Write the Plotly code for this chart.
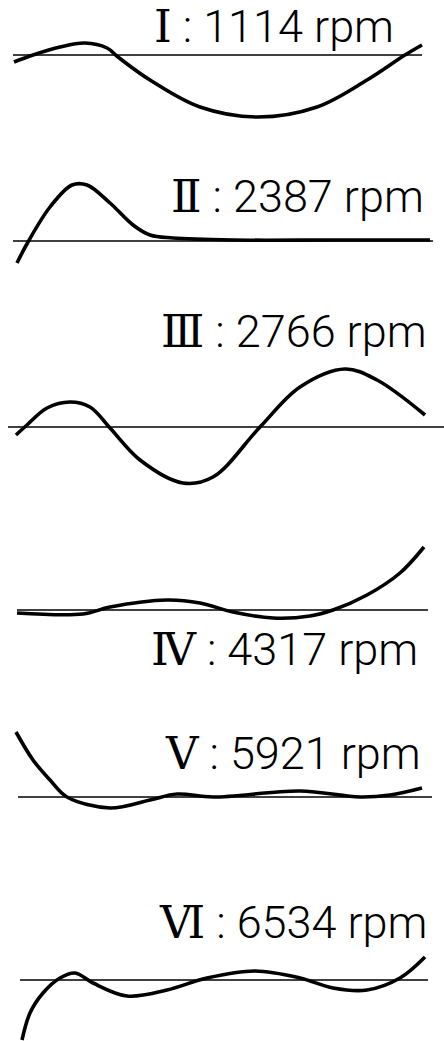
import plotly.graph_objects as go

W, H = 444, 1041

# Mode labels
modes = ["Ⅰ", "Ⅱ", "Ⅲ", "Ⅳ", "Ⅴ", "Ⅵ"]
speeds_rpm = [1114, 2387, 2766, 4317, 5921, 6534]

# Mode shapes: station along the span and deflection (up positive)
pos_1 = [14, 33, 60, 85, 107, 118, 150, 200, 258, 317, 367, 405, 422]
def_1 = [-7, 0, 8, 12, 7, -2, -25, -52, -62, -52, -25, 0, 10]

pos_2 = [17, 28, 50, 72, 87, 110, 133, 150, 173, 233, 333, 430]
def_2 = [-22, -1, 34, 56, 56, 38, 16, 6, 3, 1, 1, 1]

pos_3 = [16, 27, 47, 70, 90, 110, 140, 183, 213, 260, 300, 345, 377, 425]
def_3 = [-8, 2, 19, 25, 20, -1, -33, -56, -50, 0, 40, 58, 47, 12]

pos_4 = [17, 83, 110, 167, 200, 233, 273, 310, 333, 367, 400, 424]
def_4 = [-3, -4, 3, 10, 7, -2, -8, -6, 0, 15, 37, 63]

pos_5 = [16, 33, 50, 67, 110, 150, 177, 213, 300, 360, 390, 422]
def_5 = [65, 37, 17, 0, -11, -3, 3, 0, 6, 0, 2, 9]

pos_6 = [22, 30, 43, 60, 75, 93, 127, 167, 207, 255, 300, 333, 367, 400, 425]
def_6 = [-60, -33, -13, 2, 7, -3, -16, -10, 2, 9, 2, -8, -10, 2, 23]

positions = [pos_1, pos_2, pos_3, pos_4, pos_5, pos_6]
deflections = [def_1, def_2, def_3, def_4, def_5, def_6]

# Reference (undeformed) line extent for each mode
axis_start = [13, 13, 8, 17, 18, 20]
axis_end = [422, 433, 444, 428, 432, 428]

# Label placement: right edge station and height relative to the reference line
label_right = [396, 426, 429, 420, 423, 429]
label_level = [29.5, 45.5, 96.5, -38.5, 44.5, 58.5]

# Vertical layout of the six panels (pixel rows) and reference-line rows
band_top = [0, 170, 290, 510, 700, 840]
band_bottom = [170, 290, 510, 700, 840, 1041]
ref_row = [55, 241, 427, 610, 797, 980]

fig = go.Figure()
layout_axes = {}
annotations = []

for i in range(6):
    yname = "y" if i == 0 else f"y{i + 1}"
    ykey = "yaxis" if i == 0 else f"yaxis{i + 1}"
    top, bot, ref = band_top[i], band_bottom[i], ref_row[i]
    layout_axes[ykey] = dict(
        domain=[1 - bot / H, 1 - top / H],
        range=[ref - bot, ref - top],
        visible=False,
        fixedrange=True,
        anchor="x",
    )
    # undeformed reference line
    fig.add_trace(go.Scatter(
        x=[axis_start[i], axis_end[i]], y=[0, 0],
        mode="lines", line=dict(color="black", width=1.5),
        xaxis="x", yaxis=yname, hoverinfo="skip", showlegend=False,
    ))
    # mode shape
    fig.add_trace(go.Scatter(
        x=positions[i], y=deflections[i],
        mode="lines", line=dict(color="black", width=3.6, shape="spline", smoothing=1.0),
        xaxis="x", yaxis=yname, showlegend=False,
    ))
    label = (
        f"<span style='font-family:DejaVu Serif'>{modes[i]}</span>"
        f" : {speeds_rpm[i]} rpm"
    )
    annotations.append(dict(
        x=label_right[i], y=label_level[i], xref="x", yref=yname,
        text=label, height=50,
        showarrow=False, xanchor="right", yanchor="middle",
        font=dict(family="Roboto", size=45, color="black", weight=300),
    ))

fig.update_layout(
    width=W, height=H,
    margin=dict(l=0, r=0, t=0, b=0),
    paper_bgcolor="white", plot_bgcolor="white",
    xaxis=dict(range=[0, W], domain=[0, 1], visible=False, fixedrange=True),
    annotations=annotations,
    **layout_axes,
)

fig.write_html("out.html", config={"displayModeBar": False})
